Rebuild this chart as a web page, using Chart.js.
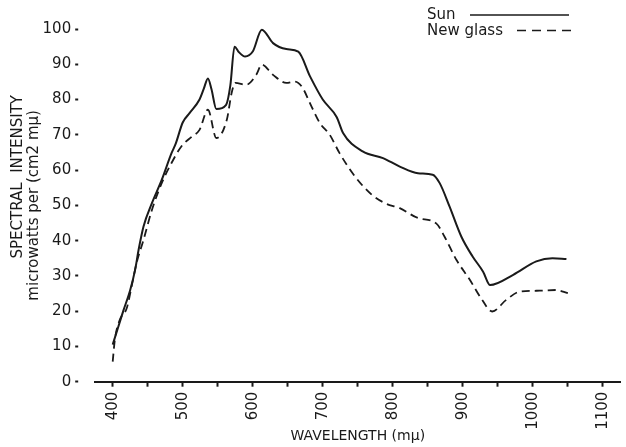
<!DOCTYPE html>
<html>
<head>
<meta charset="utf-8">
<script src="https://cdn.jsdelivr.net/npm/chart.js@4/dist/chart.umd.min.js"></script>
<style>
  html, body { margin: 0; padding: 0; background: #fff; }
  #wrap { width: 626px; height: 447px; }
</style>
</head>
<body>
<div id="wrap"><canvas id="c" width="626" height="447"></canvas></div>
<script>
// ---- data ----
const seriesNames = ['Sun', 'New glass'];
const sunWavelength = [400,408,415,425,432,437,444,456,470,484,490,500,510,524,530,536,541,548,562,568,574,580,589,600,613,629,648,665,682,700,720,729,757,786,810,836,857,867,881,898,914,929,939,972,1005,1028,1048];
const sunIntensity  = [10.5,15.6,20,26,31.7,37.4,44,50.6,57.2,64.8,67.5,73.5,76.2,80,83,86,83,77.3,78.5,84,95,93.5,92.2,93.6,99.8,96,94.3,93.6,86.5,80,75,70.5,65.3,63.4,61,59.1,58.7,56.3,49.7,41.1,35.5,31.2,27.4,30.3,34.1,35,34.8];
const glassWavelength = [400,403,410,420,427,434,444,456,470,484,498,513,524,536,548,563,570,575,591,605,613,629,648,660,670,684,696,710,724,746,770,790,810,836,862,874,891,910,926,942,962,981,1010,1033,1050];
const glassIntensity  = [5.7,11.8,17.5,20.8,27,33.6,40.2,48.7,56.3,62,66.7,69.5,71.4,77.1,69.1,74.3,82,84.7,84.2,87,89.9,87,84.7,85.1,83.7,78,73.3,70,64.8,58.2,53,50.5,49.2,46.4,44.9,41.1,34.5,28.9,23.7,19.9,23.2,25.5,25.8,26,25.1];
const xTickValues = [400,450,500,550,600,650,700,750,800,850,900,950,1000,1050,1100];
const xTickLabels = [400,500,600,700,800,900,1000,1100];
const yTickLabels = [0,10,20,30,40,50,60,70,80,90,100];

const FONT = "'DejaVu Sans', sans-serif";
const INK = '#1a1a1a';

const toPoints = (xs, ys) => xs.map((x, i) => ({ x: x, y: ys[i] }));

const legendPlugin = {
  id: 'handLegend',
  afterDraw(chart) {
    const ctx = chart.ctx;
    ctx.save();
    ctx.fillStyle = INK;
    ctx.strokeStyle = INK;
    ctx.font = "15px " + FONT;
    ctx.textBaseline = 'middle';
    ctx.textAlign = 'left';
    const ds = chart.data.datasets;
    // Sun
    ctx.fillText(ds[0].label, 427, 15);
    ctx.lineWidth = 1.6;
    ctx.setLineDash([]);
    ctx.beginPath(); ctx.moveTo(470, 15); ctx.lineTo(569, 15); ctx.stroke();
    // New glass
    ctx.fillText(ds[1].label, 427, 31);
    ctx.setLineDash([9, 6]);
    ctx.beginPath(); ctx.moveTo(517, 30.5); ctx.lineTo(575, 30.5); ctx.stroke();
    ctx.restore();
  }
};

new Chart(document.getElementById('c'), {
  type: 'line',
  data: {
    datasets: [
      {
        label: seriesNames[0],
        data: toPoints(sunWavelength, sunIntensity),
        borderColor: INK,
        borderWidth: 2,
        pointRadius: 0,
        cubicInterpolationMode: 'monotone',
        fill: false,
        clip: false
      },
      {
        label: seriesNames[1],
        data: toPoints(glassWavelength, glassIntensity),
        borderColor: INK,
        borderWidth: 1.8,
        borderDash: [8, 5],
        pointRadius: 0,
        cubicInterpolationMode: 'monotone',
        fill: false,
        clip: false
      }
    ]
  },
  options: {
    responsive: false,
    animation: false,
    devicePixelRatio: 1,
    layout: { padding: { top: 29, right: 5, left: 0, bottom: 0 } },
    plugins: {
      legend: { display: false },
      tooltip: { enabled: false }
    },
    scales: {
      x: {
        type: 'linear',
        position: 'bottom',
        min: 375,
        max: 1125,
        afterBuildTicks(scale) {
          scale.ticks = xTickValues.map(v => ({ value: v }));
        },
        afterFit(scale) { scale.height = 65.3; },
        ticks: {
          autoSkip: false,
          minRotation: 90,
          maxRotation: 90,
          padding: 5,
          color: INK,
          font: { family: FONT, size: 15 },
          callback: (v) => xTickLabels.includes(v) ? String(v) : ''
        },
        grid: {
          drawOnChartArea: false,
          drawTicks: true,
          tickLength: 5,
          tickWidth: 2,
          tickColor: INK
        },
        border: { display: true, color: INK, width: 2 },
        title: {
          display: true,
          text: 'WAVELENGTH (mμ)',
          color: INK,
          font: { family: FONT, size: 14 },
          padding: { top: 0, bottom: 2 }
        }
      },
      y: {
        type: 'linear',
        min: 0,
        max: 100,
        afterBuildTicks(scale) {
          scale.ticks = yTickLabels.map(v => ({ value: v }));
        },
        afterFit(scale) { scale.width = 95.2; },
        ticks: {
          padding: 4,
          color: INK,
          font: { family: FONT, size: 15 },
          callback: (v) => String(v)
        },
        grid: {
          drawOnChartArea: false,
          drawTicks: true,
          tickLength: 20,
          tickWidth: 2,
          tickColor: INK,
          tickBorderDash: [3, 100]
        },
        border: { display: false },
        title: {
          display: true,
          text: ['            SPECTRAL  INTENSITY', 'microwatts per (cm2 mμ)'],
          color: INK,
          font: { family: FONT, size: 15, lineHeight: 1.05 },
          padding: { top: 10, bottom: 0 }
        }
      }
    }
  },
  plugins: [legendPlugin]
});
</script>
</body>
</html>
